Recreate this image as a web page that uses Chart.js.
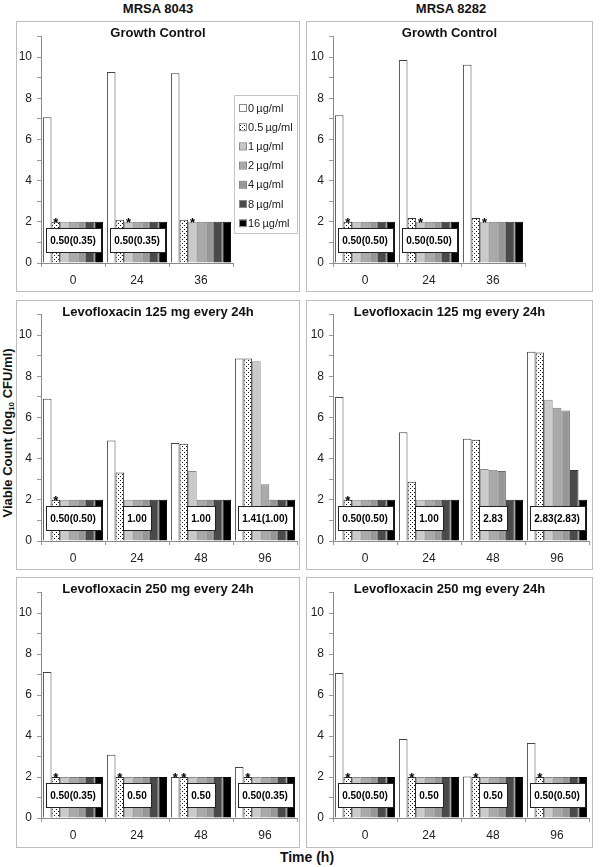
<!DOCTYPE html>
<html>
<head>
<meta charset="utf-8">
<script src="https://cdn.jsdelivr.net/npm/chart.js@4"></script>
<style>
html, body { margin: 0; padding: 0; background: #fff; }
body { width: 600px; height: 867px; position: relative; overflow: hidden; font-family: 'Liberation Sans', Arial, sans-serif; color: #111; }
.panel { position: absolute; box-sizing: border-box; border: 1px solid #bdbdbd; }
canvas { position: absolute; }
.lbl { position: absolute; font-weight: bold; font-size: 13px; white-space: nowrap; transform: translate(-50%, -50%); line-height: 1; }
#ylab { transform: translate(-50%, -50%) rotate(-90deg); }
#ylab sub { font-size: 8px; vertical-align: -2px; }
</style>
</head>
<body>
<div class="lbl" style="left:158px; top:8px;">MRSA 8043</div>
<div class="lbl" style="left:451px; top:8px;">MRSA 8282</div>
<div class="lbl" id="ylab" style="left:8px; top:433px;">Viable Count (log<sub>10</sub> CFU/ml)</div>
<div class="lbl" style="left:307px; top:857px; font-size:14px;">Time (h)</div>

<script>
// series names and x categories
const concLabels = ['0\u2009µg/ml', '0.5\u2009µg/ml', '1\u2009µg/ml', '2\u2009µg/ml', '4\u2009µg/ml', '8\u2009µg/ml', '16\u2009µg/ml'];
const timesGC = ['0', '24', '36'];
const timesLevo = ['0', '24', '48', '96'];

// log10 CFU/ml, one row per concentration (0, 0.5, 1, 2, 4, 8, 16 µg/ml)
const gc8043 = [
    [7.08, 9.27, 9.21],
    [2, 2.1, 2.1],
    [2, 2, 2], [2, 2, 2], [2, 2, 2], [2, 2, 2], [2, 2, 2]
];
const gc8282 = [
    [7.17, 9.85, 9.62],
    [2, 2.18, 2.18],
    [2, 2, 2], [2, 2, 2], [2, 2, 2], [2, 2, 2], [2, 2, 2]
];
const levo125_8043 = [
    [6.91, 4.88, 4.76, 8.86],
    [2, 3.33, 4.72, 8.86],
    [2, 2, 3.40, 8.73],
    [2, 2, 2, 2.76],
    [2, 2, 2, 2], [2, 2, 2, 2], [2, 2, 2, 2]
];
const levo125_8282 = [
    [6.99, 5.28, 4.96, 9.19],
    [2, 2.88, 4.91, 9.15],
    [2, 2, 3.50, 6.86],
    [2, 2, 3.46, 6.47],
    [2, 2, 3.40, 6.34],
    [2, 2, 2, 3.45],
    [2, 2, 2, 2]
];
const levo250_8043 = [
    [7.12, 3.09, 2.0, 2.49],
    [2, 2, 2, 2], [2, 2, 2, 2], [2, 2, 2, 2], [2, 2, 2, 2], [2, 2, 2, 2], [2, 2, 2, 2]
];
const levo250_8282 = [
    [7.07, 3.85, 2.03, 3.66],
    [2, 2, 2, 2], [2, 2, 2, 2], [2, 2, 2, 2], [2, 2, 2, 2], [2, 2, 2, 2], [2, 2, 2, 2]
];

// boxed values under each time point
const notesGC8043 = ['0.50(0.35)', '0.50(0.35)', ''];
const notesGC8282 = ['0.50(0.50)', '0.50(0.50)', ''];
const notes125_8043 = ['0.50(0.50)', '1.00', '1.00', '1.41(1.00)'];
const notes125_8282 = ['0.50(0.50)', '1.00', '2.83', '2.83(2.83)'];
const notes250_8043 = ['0.50(0.35)', '0.50', '0.50', '0.50(0.35)'];
const notes250_8282 = ['0.50(0.50)', '0.50', '0.50', '0.50(0.50)'];

// asterisks: [time index, concentration index]
const starsGC8043 = [[0, 1], [1, 2], [2, 2]];
const starsGC8282 = [[0, 1], [1, 2], [2, 2]];
const stars125_8043 = [[0, 1]];
const stars125_8282 = [[0, 1]];
const stars250_8043 = [[0, 1], [1, 1], [2, 0], [2, 1], [3, 1]];
const stars250_8282 = [[0, 1], [1, 1], [2, 1], [3, 1]];

const FONT = "'Liberation Sans', Arial, sans-serif";

function dotPattern() {
    const c = document.createElement('canvas');
    c.width = 4; c.height = 4;
    const g = c.getContext('2d');
    g.fillStyle = '#fff';
    g.fillRect(0, 0, 4, 4);
    g.fillStyle = '#111';
    g.fillRect(0, 0, 1, 1);
    g.fillRect(2, 2, 1, 1);
    return g.createPattern(c, 'repeat');
}
const fills = ['#ffffff', dotPattern(), '#c9c9c9', '#aaaaaa', '#979797', '#4a4a4a', '#000000'];
const edges = ['#444444', '#333333', '#8a8a8a', '#7a7a7a', '#6a6a6a', '#333333', '#000000'];

// stars and boxed values
const marks = {
    id: 'marks',
    afterDatasetsDraw(chart, args, opts) {
        const ctx = chart.ctx;
        const xs = chart.scales.x, ys = chart.scales.y;
        ctx.save();
        ctx.fillStyle = '#000';
        ctx.textAlign = 'center';
        ctx.textBaseline = 'alphabetic';
        ctx.font = 'bold 13px ' + FONT;
        opts.stars.forEach(([c, d]) => {
            const bar = chart.getDatasetMeta(d).data[c];
            ctx.fillText('*', bar.x, bar.y + 5);
        });
        ctx.font = 'bold 10px ' + FONT;
        ctx.textBaseline = 'middle';
        opts.notes.forEach((t, i) => {
            if (!t) return;
            const cx = xs.getPixelForValue(i);
            const cy = ys.getPixelForValue(1.1);
            const w = Math.round(ctx.measureText(t).width + 9), h = 24;
            const x0 = Math.round(cx - w / 2) + 0.5, y0 = Math.round(cy - h / 2) + 0.5;
            ctx.fillStyle = '#fff';
            ctx.fillRect(x0, y0, w, h);
            ctx.strokeStyle = '#222';
            ctx.lineWidth = 1;
            ctx.strokeRect(x0, y0, w, h);
            ctx.fillStyle = '#000';
            ctx.fillText(t, cx, cy + 1);
        });
        ctx.restore();
    }
};

// small boxed legend inside the first panel
const boxLegend = {
    id: 'boxLegend',
    afterDraw(chart, args, opts) {
        if (!opts.show) return;
        const ctx = chart.ctx;
        ctx.save();
        ctx.strokeStyle = '#c4c4c4';
        ctx.lineWidth = 1;
        ctx.strokeRect(opts.x + 0.5, opts.y + 0.5, opts.w, opts.h);
        ctx.font = '11px ' + FONT;
        ctx.textBaseline = 'middle';
        ctx.textAlign = 'left';
        chart.data.datasets.forEach((ds, i) => {
            const ry = opts.y + 13 + i * 19.2;
            ctx.fillStyle = ds.backgroundColor;
            ctx.fillRect(opts.x + 6, ry - 3, 6, 6);
            ctx.strokeStyle = '#888';
            ctx.strokeRect(opts.x + 5.5, ry - 3.5, 7, 7);
            ctx.fillStyle = '#222';
            ctx.fillText(ds.label, opts.x + 14, ry + 0.5);
        });
        ctx.restore();
    }
};

function drawPanel(b, title, times, rows, notes, stars, area, legend) {
    const frame = document.createElement('div');
    frame.className = 'panel';
    Object.assign(frame.style, { left: b.left + 'px', top: b.top + 'px', width: b.w + 'px', height: b.h + 'px' });
    document.body.appendChild(frame);

    const cv = document.createElement('canvas');
    cv.width = b.w; cv.height = b.h;
    cv.style.left = b.left + 'px';
    cv.style.top = b.top + 'px';
    document.body.appendChild(cv);

    const t = document.createElement('div');
    t.className = 'lbl';
    t.textContent = title;
    t.style.left = (b.left + b.w / 2) + 'px';
    t.style.top = (b.top + 11) + 'px';
    document.body.appendChild(t);

    new Chart(cv, {
        type: 'bar',
        data: {
            labels: times,
            datasets: rows.map((vals, i) => ({
                label: concLabels[i],
                data: vals,
                backgroundColor: fills[i],
                borderColor: edges[i],
                borderWidth: 1,
                borderSkipped: 'bottom',
                categoryPercentage: 0.94,
                barPercentage: 1.0
            }))
        },
        options: {
            responsive: false,
            animation: false,
            events: [],
            layout: { padding: { left: 0, right: area.right, top: area.top, bottom: 0 } },
            plugins: {
                legend: { display: false },
                tooltip: { enabled: false },
                marks: { notes: notes, stars: stars },
                boxLegend: Object.assign({ show: !!legend }, legend || {})
            },
            scales: {
                x: {
                    grid: { drawOnChartArea: false, offset: true, tickLength: 4, color: '#9a9a9a' },
                    border: { color: '#8a8a8a' },
                    ticks: { font: { family: FONT, size: 12 }, color: '#222', padding: 6, maxRotation: 0 },
                    afterFit: s => { s.height = area.xh; }
                },
                y: {
                    min: 0, max: 11,
                    grid: { drawOnChartArea: false, tickLength: 4, color: '#9a9a9a' },
                    border: { color: '#8a8a8a' },
                    ticks: {
                        stepSize: 1, autoSkip: false,
                        font: { family: FONT, size: 12 }, color: '#222', padding: 5,
                        callback: v => (v % 2 === 0 && v <= 10) ? String(v) : ''
                    },
                    afterFit: s => { s.width = area.left; }
                }
            }
        },
        plugins: [marks, boxLegend]
    });
}

drawPanel({ left: 16, top: 21, w: 284, h: 271 }, 'Growth Control', timesGC, gc8043, notesGC8043, starsGC8043,
    { left: 25, right: 67, top: 15.4, xh: 29 }, { x: 218, y: 74, w: 63, h: 138 });
drawPanel({ left: 306, top: 21, w: 287, h: 271 }, 'Growth Control', timesGC, gc8282, notesGC8282, starsGC8282,
    { left: 27, right: 68, top: 15.4, xh: 29 });
drawPanel({ left: 16, top: 300, w: 284, h: 270 }, 'Levofloxacin 125 mg every 24h', timesLevo, levo125_8043, notes125_8043, stars125_8043,
    { left: 25, right: 3, top: 14.4, xh: 29 });
drawPanel({ left: 306, top: 300, w: 287, h: 270 }, 'Levofloxacin 125 mg every 24h', timesLevo, levo125_8282, notes125_8282, stars125_8282,
    { left: 27, right: 4, top: 14.4, xh: 29 });
drawPanel({ left: 16, top: 577, w: 284, h: 271 }, 'Levofloxacin 250 mg every 24h', timesLevo, levo250_8043, notes250_8043, stars250_8043,
    { left: 25, right: 3, top: 15.5, xh: 30 });
drawPanel({ left: 306, top: 577, w: 287, h: 271 }, 'Levofloxacin 250 mg every 24h', timesLevo, levo250_8282, notes250_8282, stars250_8282,
    { left: 27, right: 4, top: 15.5, xh: 30 });
</script>
</body>
</html>
